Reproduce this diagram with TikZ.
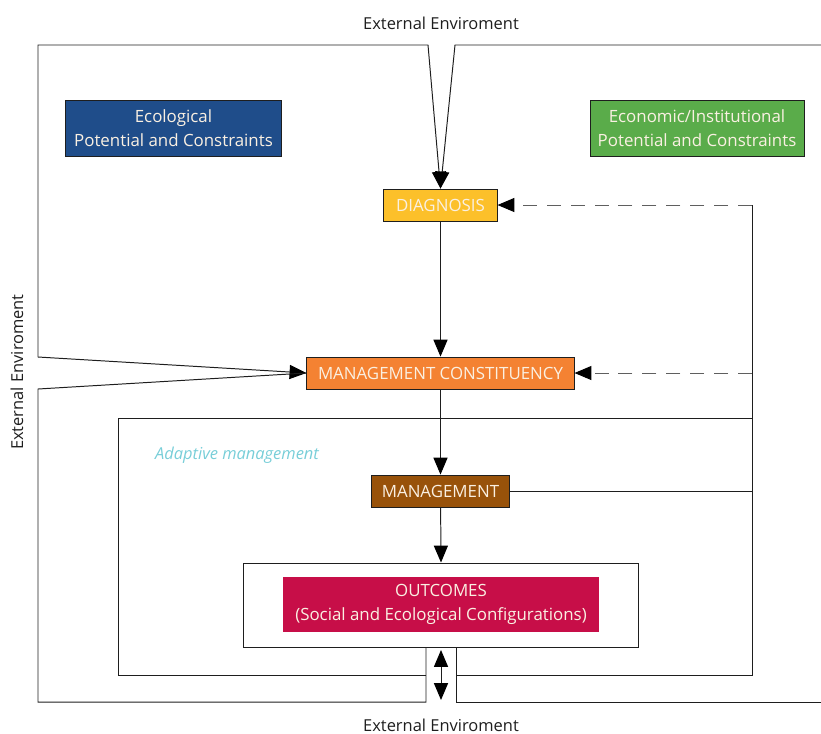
\documentclass[tikz,border=0pt]{standalone}
\usepackage{fontspec}
\setmainfont{Open Sans}
\usetikzlibrary{arrows.meta,positioning}
\definecolor{AMblue}{RGB}{31,77,138}
\definecolor{AMgreen}{RGB}{90,172,74}
\definecolor{AMyellow}{RGB}{252,192,42}
\definecolor{AMorange}{RGB}{244,130,50}
\definecolor{AMbrown}{RGB}{152,82,10}
\definecolor{AMcrimson}{RGB}{199,14,72}
\definecolor{AMtext}{RGB}{250,240,226}
\definecolor{AMcyan}{RGB}{120,206,216}
\definecolor{AMline}{RGB}{30,30,30}
\definecolor{AMgray}{RGB}{95,95,95}
\tikzset{
  box/.style={draw=AMline,line width=0.6pt,text=AMtext,align=center,inner sep=2pt,
              font=\fontsize{12}{17}\selectfont},
  frame/.style={draw=AMline,line width=0.7pt},
  fl/.style={-{Triangle[length=12pt,width=10pt,color=black]},line width=0.7pt,draw=AMline},
  flb/.style={{Triangle[length=12pt,width=10pt,color=black]}-{Triangle[length=12pt,width=10pt,color=black]},
              line width=0.7pt,draw=AMline},
  fld/.style={-{Triangle[length=12pt,width=10pt,color=black]},line width=0.7pt,draw=AMgray,
              dash pattern=on 10pt off 7pt},
  env/.style={font=\fontsize{11.7}{14}\selectfont,text=AMline}
}
\begin{document}
\begin{tikzpicture}[x=0.025cm,y=-0.025cm]
  \useasboundingbox (0,0) rectangle (821,733);
  % boxes
  \node[box,fill=AMblue,minimum width=5.38cm,minimum height=1.38cm] (eco) at (173.5,128.5)
    {Ecological\\Potential and Constraints};
  \node[box,fill=AMgreen,minimum width=5.35cm,minimum height=1.38cm] (inst) at (697,128.5)
    {Economic/Institutional\\Potential and Constraints};
  \node[box,fill=AMyellow,minimum width=2.83cm,minimum height=0.8cm] (dia) at (440.5,205) {DIAGNOSIS};
  \node[box,fill=AMorange,minimum width=6.68cm,minimum height=0.8cm] (mc) at (440.5,373)
    {MANAGEMENT CONSTITUENCY};
  \node[box,fill=AMbrown,minimum width=3.43cm,minimum height=0.8cm] (mg) at (440.5,491) {MANAGEMENT};
  \node[draw=AMline,line width=0.7pt,minimum width=9.85cm,minimum height=2.1cm] (ofr) at (441,605) {};
  \node[box,draw=none,fill=AMcrimson,minimum width=7.9cm,minimum height=1.38cm] (out) at (441,604.5)
    {OUTCOMES\\(Social and Ecological Configurations)};
  % labels
  \node[env] (envt) at (441,23) {External Enviroment};
  \node[env] (envb) at (441,725) {External Enviroment};
  \node[env,rotate=90] (envl) at (17,372) {External Enviroment};
  \node[font=\fontsize{11.7}{14}\selectfont\itshape,text=AMcyan] (adm) at (237,455) {Adaptive management};
  % free ends
  \coordinate (fbd) at (752,205);
  \coordinate (fbm) at (752,373);
  \coordinate (fbg) at (752,491);
  % outer environment
  \draw[fl] (38,357) -- (38,45) -- (428,45) -- (dia.north);
  \draw[fl] (821,45) -- (455,45) -- (dia.north);
  \draw[fl] (38,357) -- (mc.west);
  \draw[frame] (mc.west) -- (38,389) -- (38,702) -- (426,702) -- (426,647);
  \draw[frame] (456,647) -- (456,702) -- (821,702);
  % adaptive management frame
  \draw[frame] (426,675) -- (118,675) -- (118,418) -- (752,418);
  \draw[frame] (fbd) -- (752,675) -- (456,675);
  % flows
  \draw[fl] (dia) -- (mc);
  \draw[fl] (mc) -- (mg);
  \draw[fl] (mg) -- (ofr.north);
  \draw[frame] (mg.east) -- (fbg);
  \draw[fld] (fbd) -- (dia.east);
  \draw[fld] (fbm) -- (mc.east);
  \draw[flb] (441,650) -- (441,700);
\end{tikzpicture}
\end{document}
